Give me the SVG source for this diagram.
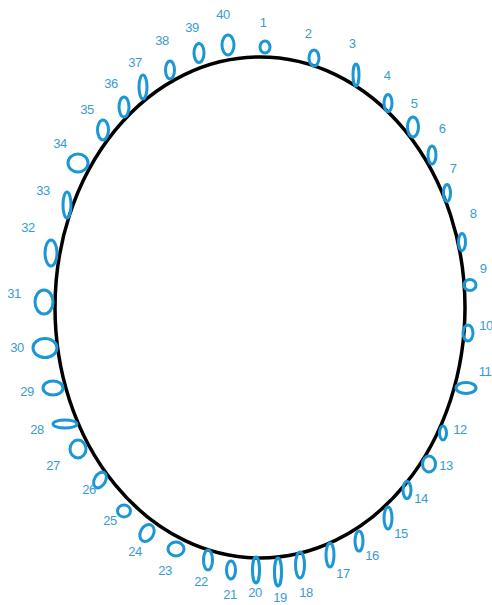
<svg xmlns="http://www.w3.org/2000/svg" width="492" height="605" viewBox="0 0 492 605">
<style>
.o{fill:none;stroke:#1b97d6;stroke-width:3}
.t{font-family:"Liberation Sans",Arial,sans-serif;font-size:13px;letter-spacing:-0.6px;fill:#3a9bd2;text-anchor:middle}
.ring{fill:none;stroke:#000;stroke-width:3.5}
</style>
<rect width="492" height="605" fill="#fff"/>
<g id="ring"><ellipse class="ring" cx="260" cy="307.5" rx="205" ry="250.5"/></g>
<g id="n1"><ellipse class="o" cx="265" cy="47" rx="5" ry="6"/><text class="t" x="263" y="27">1</text></g>
<g id="n2"><ellipse class="o" cx="314" cy="58" rx="5" ry="8"/><text class="t" x="308" y="38">2</text></g>
<g id="n3"><ellipse class="o" cx="356" cy="75" rx="3" ry="11"/><text class="t" x="352" y="48">3</text></g>
<g id="n4"><ellipse class="o" cx="388" cy="103" rx="4" ry="8.5"/><text class="t" x="387" y="80">4</text></g>
<g id="n5"><ellipse class="o" cx="413" cy="127" rx="5.5" ry="10"/><text class="t" x="414" y="108">5</text></g>
<g id="n6"><ellipse class="o" cx="432" cy="155" rx="4" ry="9"/><text class="t" x="442" y="133">6</text></g>
<g id="n7"><ellipse class="o" cx="447" cy="193" rx="3.5" ry="8.5"/><text class="t" x="453" y="173">7</text></g>
<g id="n8"><ellipse class="o" cx="462" cy="242" rx="3.5" ry="8.5"/><text class="t" x="473" y="218">8</text></g>
<g id="n9"><ellipse class="o" cx="470" cy="285" rx="6" ry="5.5"/><text class="t" x="483" y="273">9</text></g>
<g id="n10"><ellipse class="o" cx="468" cy="333" rx="5" ry="8"/><text class="t" x="486" y="330">10</text></g>
<g id="n11"><ellipse class="o" cx="466" cy="388" rx="10" ry="5.5"/><text class="t" x="485" y="376">11</text></g>
<g id="n12"><ellipse class="o" cx="443" cy="433" rx="3.5" ry="7"/><text class="t" x="460" y="434">12</text></g>
<g id="n13"><ellipse class="o" cx="429" cy="464" rx="6.5" ry="8"/><text class="t" x="446" y="470">13</text></g>
<g id="n14"><ellipse class="o" cx="407" cy="490" rx="4" ry="8.5"/><text class="t" x="421" y="503">14</text></g>
<g id="n15"><ellipse class="o" cx="388" cy="518" rx="4" ry="11"/><text class="t" x="401" y="538">15</text></g>
<g id="n16"><ellipse class="o" cx="359" cy="541" rx="4" ry="10"/><text class="t" x="372" y="560">16</text></g>
<g id="n17"><ellipse class="o" cx="330" cy="555" rx="4" ry="12"/><text class="t" x="343" y="578">17</text></g>
<g id="n18"><ellipse class="o" cx="300" cy="565" rx="4.5" ry="13"/><text class="t" x="306" y="597">18</text></g>
<g id="n19"><ellipse class="o" cx="278" cy="572" rx="3.5" ry="14"/><text class="t" x="280" y="602">19</text></g>
<g id="n20"><ellipse class="o" cx="256" cy="570" rx="3.5" ry="13"/><text class="t" x="255" y="597">20</text></g>
<g id="n21"><ellipse class="o" cx="231" cy="570" rx="4.5" ry="9"/><text class="t" x="230" y="599">21</text></g>
<g id="n22"><ellipse class="o" cx="208" cy="560" rx="4.5" ry="10"/><text class="t" x="201" y="586">22</text></g>
<g id="n23"><ellipse class="o" cx="176" cy="549" rx="8" ry="7"/><text class="t" x="165" y="575">23</text></g>
<g id="n24"><ellipse class="o" cx="147" cy="533" rx="6.5" ry="9" transform="rotate(30 147 533)"/><text class="t" x="135" y="556">24</text></g>
<g id="n25"><ellipse class="o" cx="124" cy="511" rx="6.5" ry="6"/><text class="t" x="110" y="525">25</text></g>
<g id="n26"><ellipse class="o" cx="100" cy="480" rx="5.5" ry="8.5" transform="rotate(30 100 480)"/><text class="t" x="89" y="494">26</text></g>
<g id="n27"><ellipse class="o" cx="78" cy="449" rx="8" ry="9"/><text class="t" x="53" y="470">27</text></g>
<g id="n28"><ellipse class="o" cx="65" cy="424" rx="12" ry="4"/><text class="t" x="37" y="434">28</text></g>
<g id="n29"><ellipse class="o" cx="53" cy="388" rx="10" ry="7"/><text class="t" x="27" y="396">29</text></g>
<g id="n30"><ellipse class="o" cx="45" cy="348" rx="12" ry="9.5"/><text class="t" x="17" y="352">30</text></g>
<g id="n31"><ellipse class="o" cx="44" cy="302" rx="9" ry="12"/><text class="t" x="14" y="298">31</text></g>
<g id="n32"><ellipse class="o" cx="51" cy="253" rx="6" ry="13"/><text class="t" x="28" y="232">32</text></g>
<g id="n33"><ellipse class="o" cx="67" cy="205" rx="4" ry="13"/><text class="t" x="43" y="195">33</text></g>
<g id="n34"><ellipse class="o" cx="78" cy="163" rx="10" ry="9"/><text class="t" x="60" y="148">34</text></g>
<g id="n35"><ellipse class="o" cx="103" cy="130" rx="5.5" ry="10"/><text class="t" x="87" y="114">35</text></g>
<g id="n36"><ellipse class="o" cx="124" cy="107" rx="5" ry="10"/><text class="t" x="111" y="88">36</text></g>
<g id="n37"><ellipse class="o" cx="143" cy="87" rx="4" ry="12"/><text class="t" x="135" y="67">37</text></g>
<g id="n38"><ellipse class="o" cx="170" cy="70" rx="4.5" ry="9"/><text class="t" x="162" y="45">38</text></g>
<g id="n39"><ellipse class="o" cx="199" cy="53" rx="5" ry="9.5"/><text class="t" x="192" y="32">39</text></g>
<g id="n40"><ellipse class="o" cx="228" cy="45" rx="6" ry="10"/><text class="t" x="223" y="19">40</text></g>
</svg>
